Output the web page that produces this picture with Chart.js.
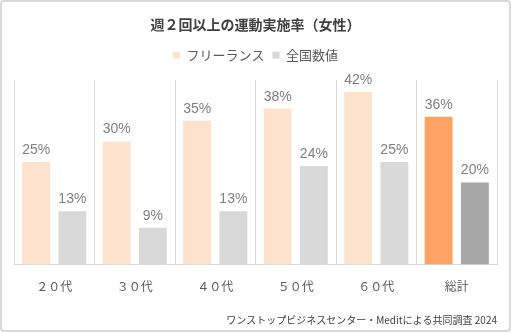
<!DOCTYPE html>
<html>
<head>
<meta charset="utf-8">
<title>週２回以上の運動実施率（女性）</title>
<script src="https://cdn.jsdelivr.net/npm/chart.js@4.4.1/dist/chart.umd.min.js"></script>
<style>
  body { margin: 0; background: #fff; }
  .wrap { position: relative; width: 512px; height: 333px; }
  .frame {
    position: absolute; left: 0; top: 0; width: 511px; height: 332px;
    box-sizing: border-box; border: 2px solid #d9d9d9; border-radius: 4px;
    pointer-events: none;
  }
</style>
</head>
<body>
<div class="wrap">
  <canvas id="chart" width="512" height="333"></canvas>
  <div class="frame"></div>
</div>
<script>
const categories = ['２０代', '３０代', '４０代', '５０代', '６０代', '総計'];
const freelance = [25, 30, 35, 38, 42, 36];
const national = [13, 9, 13, 24, 25, 20];

const JP = '"Noto Sans CJK JP", "Noto Sans", sans-serif';

// "総計" column is highlighted with darker shades
const totalIndex = categories.length - 1;
const shade = (light, dark) => (c) => c.dataIndex === totalIndex ? dark : light;

// percentage text above each bar
const valueLabels = {
  id: 'valueLabels',
  afterDatasetsDraw(chart) {
    const ctx = chart.ctx;
    ctx.save();
    ctx.font = '14px "Liberation Sans", Arial, sans-serif';
    ctx.fillStyle = '#7f7f7f';
    ctx.textAlign = 'center';
    ctx.textBaseline = 'alphabetic';
    chart.data.datasets.forEach((ds, i) => {
      chart.getDatasetMeta(i).data.forEach((bar, j) => {
        ctx.fillText(ds.data[j] + '%', bar.x, bar.y - 8);
      });
    });
    ctx.restore();
  }
};

// leave some extra room between the legend and the bars
const legendGap = {
  id: 'legendGap',
  beforeInit(chart) {
    const fit = chart.legend.fit;
    chart.legend.fit = function () {
      fit.call(this);
      this.height += 8;
    };
  }
};

new Chart(document.getElementById('chart'), {
  type: 'bar',
  data: {
    labels: categories,
    datasets: [
      { label: 'フリーランス', data: freelance, backgroundColor: shade('#fde3ce', '#ffa365') },
      { label: '全国数値', data: national, backgroundColor: shade('#d9d9d9', '#a6a6a6') }
    ]
  },
  options: {
    responsive: false,
    animation: false,
    layout: { padding: { left: 14, right: 15, top: 0, bottom: 7 } },
    categoryPercentage: 0.9,
    barPercentage: 0.77,
    plugins: {
      title: {
        display: true,
        text: '週２回以上の運動実施率（女性）',
        color: '#404040',
        font: { family: JP, size: 14, weight: 'bold' },
        padding: { top: 16, bottom: 8 }
      },
      legend: {
        labels: {
          boxWidth: 7,
          boxHeight: 7,
          padding: 8,
          color: '#595959',
          font: { family: JP, size: 13 }
        }
      },
      subtitle: {
        display: true,
        position: 'bottom',
        align: 'end',
        text: 'ワンストップビジネスセンター・Meditによる共同調査 2024',
        color: '#404040',
        font: { family: JP, size: 10 },
        padding: { top: 5, bottom: 0 }
      },
      tooltip: { enabled: false }
    },
    scales: {
      x: {
        grid: { color: '#d9d9d9', drawTicks: false, offset: true },
        border: { color: '#d9d9d9' },
        ticks: { color: '#595959', padding: 15, font: { family: JP, size: 12 } }
      },
      y: { display: false, min: 0, max: 45 }
    }
  },
  plugins: [valueLabels, legendGap]
});
</script>
</body>
</html>
